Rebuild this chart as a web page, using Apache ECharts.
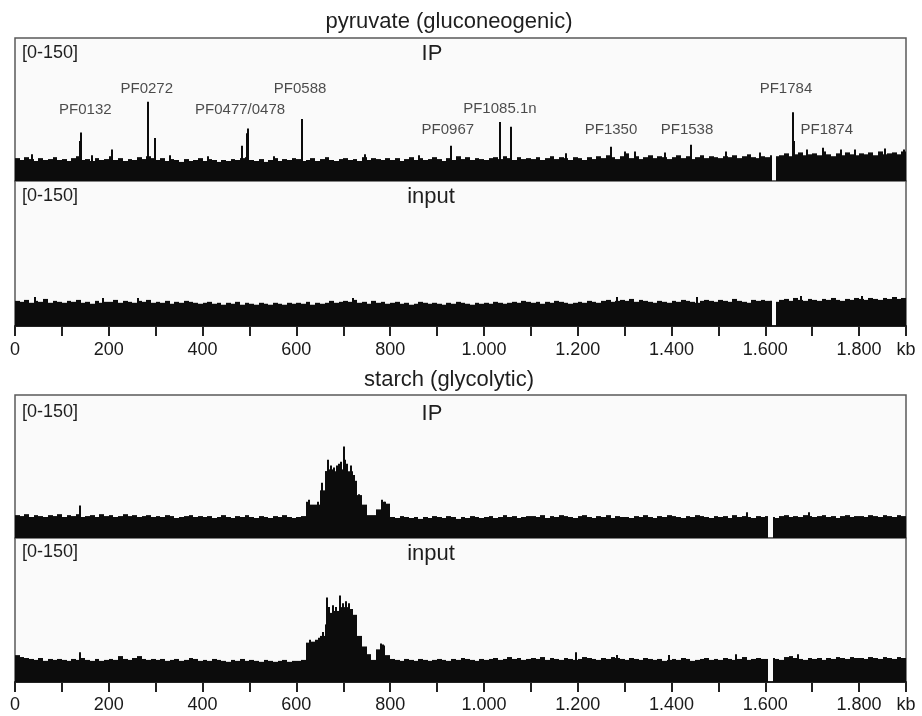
<!DOCTYPE html>
<html>
<head>
<meta charset="utf-8">
<title>pyruvate / starch</title>
<script src="https://cdn.jsdelivr.net/npm/echarts@6/dist/echarts.min.js"></script>
<style>
  html, body { margin: 0; padding: 0; background: #fff; }
  #chart-panel { width: 922px; height: 716px; }
</style>
</head>
<body>
<div id="chart-panel"></div>
<script>
// coverage per 10 kb bin, scale [0-150]
var pyrIP = [
  24,22,25,23,21,24,22,23,25,22, 23,21,24,26,22,23,21,24,22,23,
  26,22,24,21,23,22,25,23,26,24, 22,24,21,23,22,20,23,21,22,24,
  21,23,22,20,22,21,23,22,24,25, 22,21,23,20,22,24,21,23,22,24,
  23,21,22,24,21,23,25,22,21,23, 24,22,23,21,25,22,24,23,22,24,
  22,24,21,23,25,22,24,22,23,25, 23,21,24,22,26,23,25,22,24,23,
  22,24,25,23,26,24,22,25,23,24, 23,25,22,24,26,23,25,24,22,25,
  24,22,25,23,26,24,27,25,23,26, 29,24,26,23,25,27,24,26,25,23,
  25,27,24,26,23,25,27,24,26,25, 24,26,25,27,24,26,28,25,24,26,
  25,27,26,27,29,26,28,30,27,28, 29,27,31,28,26,29,27,30,28,27,
  29,28,30,27,31,28,29,30,28,31
];
var pyrInput = [
  26,25,27,24,26,25,28,24,26,25, 24,26,25,27,24,25,23,26,24,25,
  25,27,24,26,25,24,26,25,27,24, 25,24,26,23,25,24,26,25,24,23,
  24,25,23,24,22,24,23,25,22,24, 23,22,24,23,22,24,23,22,24,23,
  24,23,25,22,24,23,24,26,24,25, 26,25,27,24,25,23,26,24,25,23,
  24,25,23,24,22,23,25,24,23,24, 23,22,24,23,25,24,23,22,24,23,
  24,23,25,24,23,24,25,24,26,25, 24,25,23,25,24,26,25,24,23,24,
  25,24,26,25,24,26,27,25,26,27, 26,28,25,27,26,25,24,26,25,24,
  26,25,27,26,25,24,26,27,26,25, 27,26,25,28,26,25,24,27,26,27,
  26,26,25,27,28,26,29,27,26,28, 27,26,28,27,29,27,26,28,27,29,
  28,27,29,28,27,29,28,30,28,29
];
var starchIP = [
  24,23,25,22,24,23,22,24,23,25, 22,24,23,25,22,23,24,22,25,23,
  24,22,23,25,23,24,22,23,24,22, 23,22,24,23,21,22,23,24,22,23,
  22,23,21,22,24,22,21,23,22,24, 22,21,23,22,21,23,22,24,22,21,
  22,23,38,35,35,50,70,72,70,72, 74,70,60,45,35,24,24,30,38,36,
  22,21,23,22,21,22,20,22,21,23, 22,21,23,22,20,22,21,23,22,21,
  22,23,21,22,24,22,23,21,22,23, 23,22,24,21,23,22,24,23,22,21,
  23,24,22,21,23,22,24,21,23,22, 22,21,23,22,24,22,21,23,22,24,
  23,22,21,23,22,24,23,22,21,23, 22,23,21,24,22,23,22,21,23,22,
  23,22,21,23,24,22,23,22,24,23, 22,23,24,22,23,21,23,24,22,23,
  23,22,24,23,22,24,23,22,24,23
];
var starchInput = [
  28,26,25,24,23,25,22,24,23,24, 23,22,24,23,25,23,22,24,22,23,
  24,23,27,24,23,25,27,24,23,24, 23,24,22,23,24,22,23,25,24,22,
  23,22,24,23,22,21,23,22,24,22, 23,22,21,23,22,21,22,23,21,22,
  22,23,41,42,44,48,60,72,74,78, 78,76,70,48,37,29,23,34,38,28,
  24,23,22,24,23,22,24,23,22,23, 24,23,22,24,23,25,24,23,22,24,
  23,24,25,23,24,26,24,25,23,24, 25,24,26,23,25,24,23,25,24,23,
  24,26,25,24,23,25,24,26,25,24, 23,25,24,23,25,24,23,24,22,23,
  24,23,25,24,22,23,24,25,23,24, 23,25,24,23,24,26,23,24,25,24,
  24,25,24,23,26,27,25,24,23,25, 24,25,23,25,24,26,25,24,26,25,
  25,24,26,25,24,26,25,24,26,25
];

// narrow peaks and jagged tops [kb, height]
var pyrIPPeaks = [[138,42],[141,51],[207,33],[284,83],[299,45],[483,37],[495,50],[497,55],
  [611,65],[929,37],[1034,62],[1058,57],[1271,36],[1301,31],[1440,38],[1658,72],[1661,42],
  [1723,35],[1760,33],[36,28],[163,27],[330,27],[412,26],[552,26],[745,28],[862,27],[1175,29],
  [1322,31],[1386,30],[1515,31],[1588,30],[1688,33],[1790,33],[1855,34],[1895,33]];
var pyrInputPeaks = [[1676,31],[42,30],[188,29],[262,29],[720,29],[1283,30],[1453,30],[1806,31]];
var starchIPPeaks = [[139,34],[626,40],[646,38],[655,58],[662,70],[667,82],[674,76],[680,74],
  [686,76],[690,78],[695,80],[700,96],[704,82],[708,78],[715,76],[722,66],[727,52],[734,46],
  [782,40],[788,38],[1560,27],[1692,27]];
var starchInputPeaks = [[139,31],[628,44],[648,46],[657,52],[665,88],[670,78],[677,80],[684,78],
  [693,90],[698,82],[705,84],[712,82],[718,76],[725,60],[779,40],[785,39],[1196,31],[1669,29],
  [1283,28],[1395,28],[1538,29]];

// no coverage (kb)
var pyrGap = [1611, 1623];
var starchGap = [1606, 1617];

// gene names above the IP peaks [kb, y, name]
var geneLabels = [[150,75,'PF0132'],[281,97,'PF0272'],[480,75,'PF0477/0478'],[608,97,'PF0588'],
  [923,54,'PF0967'],[1034,76,'PF1085.1n'],[1271,54,'PF1350'],[1433,54,'PF1538'],
  [1644,97,'PF1784'],[1731,54,'PF1874']];

var tickLabels = ['0','200','400','600','800','1.000','1.200','1.400','1.600','1.800','kb'];

var BIN = 10;
var FONT = '"Liberation Sans", Arial, sans-serif';

function binItems(vals, gap) {
  var out = [];
  vals.forEach(function (v, i) {
    var a = i * BIN, b = a + BIN;
    if (b <= gap[0] || a >= gap[1]) { out.push([a, b, v]); return; }
    if (a < gap[0]) out.push([a, gap[0], v]);
    if (b > gap[1]) out.push([gap[1], b, v]);
  });
  return out;
}
function peakItems(list) {
  return list.map(function (p) { return [p[0] - 1.6, p[0] + 1.6, p[1]]; });
}

function renderBar(params, api) {
  var tl = api.coord([api.value(0), api.value(2)]);
  var br = api.coord([api.value(1), 0]);
  return {
    type: 'rect',
    shape: { x: Math.round(tl[0]), y: tl[1], width: Math.max(2, Math.round(br[0]) - Math.round(tl[0])), height: br[1] - tl[1] },
    style: { fill: '#0c0c0c' }
  };
}

function track(idx, vals, peaks, gap) {
  return {
    type: 'custom',
    xAxisIndex: idx, yAxisIndex: idx,
    renderItem: renderBar,
    encode: { x: [0, 1], y: 2 },
    clip: true,
    silent: true,
    data: binItems(vals, gap).concat(peakItems(peaks))
  };
}

function xAxisFor(idx, visible, offset) {
  return {
    type: 'value', gridIndex: idx, min: 0, max: 1900, interval: 100,
    show: visible, position: 'bottom', offset: offset,
    axisLine: { show: true, lineStyle: { color: '#222', width: 2 } },
    axisTick: { show: true, length: 10, lineStyle: { color: '#222', width: 2 } },
    axisLabel: {
      show: true, interval: 0, margin: 10, showMinLabel: true, showMaxLabel: true,
      fontSize: 18, color: '#1a1a1a', fontFamily: FONT,
      formatter: function (v) {
        if (v === 1900) return tickLabels[10];
        return v % 200 === 0 ? tickLabels[v / 200] : '';
      }
    },
    splitLine: { show: false }
  };
}

function txt(text, x, y, size, align) {
  return {
    text: text, left: x, top: y, textAlign: align || 'left', padding: 0,
    textStyle: { fontSize: size, fontWeight: 'normal', color: '#1e1e1e', fontFamily: FONT }
  };
}

var gridBase = { left: 15, width: 891, show: true, backgroundColor: '#fafafa', borderColor: '#5a5a5a', borderWidth: 1.5 };

var myChart = echarts.init(document.getElementById('chart-panel'));
var option = {
  animation: false,
  backgroundColor: '#fff',
  title: [
    txt('pyruvate (gluconeogenic)', 449, 11, 22, 'center'),
    txt('starch (glycolytic)', 449, 369, 22, 'center'),
    txt('[0-150]', 22, 44, 18), txt('IP', 432, 43, 22, 'center'),
    txt('[0-150]', 22, 187, 18), txt('input', 431, 186, 22, 'center'),
    txt('[0-150]', 22, 403, 18), txt('IP', 432, 403, 22, 'center'),
    txt('[0-150]', 22, 543, 18), txt('input', 431, 543, 22, 'center')
  ],
  grid: [
    Object.assign({ top: 38, height: 143 }, gridBase),
    Object.assign({ top: 181, height: 145 }, gridBase),
    Object.assign({ top: 395, height: 143 }, gridBase),
    Object.assign({ top: 538, height: 144 }, gridBase)
  ],
  xAxis: [xAxisFor(0, false, 0), xAxisFor(1, true, 5), xAxisFor(2, false, 0), xAxisFor(3, true, 4)],
  yAxis: [0, 1, 2, 3].map(function (i) {
    return { type: 'value', gridIndex: i, min: 0, max: 150, show: false };
  }),
  series: [
    track(0, pyrIP, pyrIPPeaks, pyrGap),
    track(1, pyrInput, pyrInputPeaks, pyrGap),
    track(2, starchIP, starchIPPeaks, starchGap),
    track(3, starchInput, starchInputPeaks, starchGap),
    {
      type: 'scatter', xAxisIndex: 0, yAxisIndex: 0, symbolSize: 0, silent: true,
      data: geneLabels.map(function (g) { return { value: [g[0], g[1]], name: g[2] }; }),
      label: {
        show: true, position: 'inside', formatter: '{b}',
        fontSize: 15, color: '#1e1e1e', fontFamily: FONT
      }
    }
  ]
};
myChart.setOption(option);
</script>
</body>
</html>
